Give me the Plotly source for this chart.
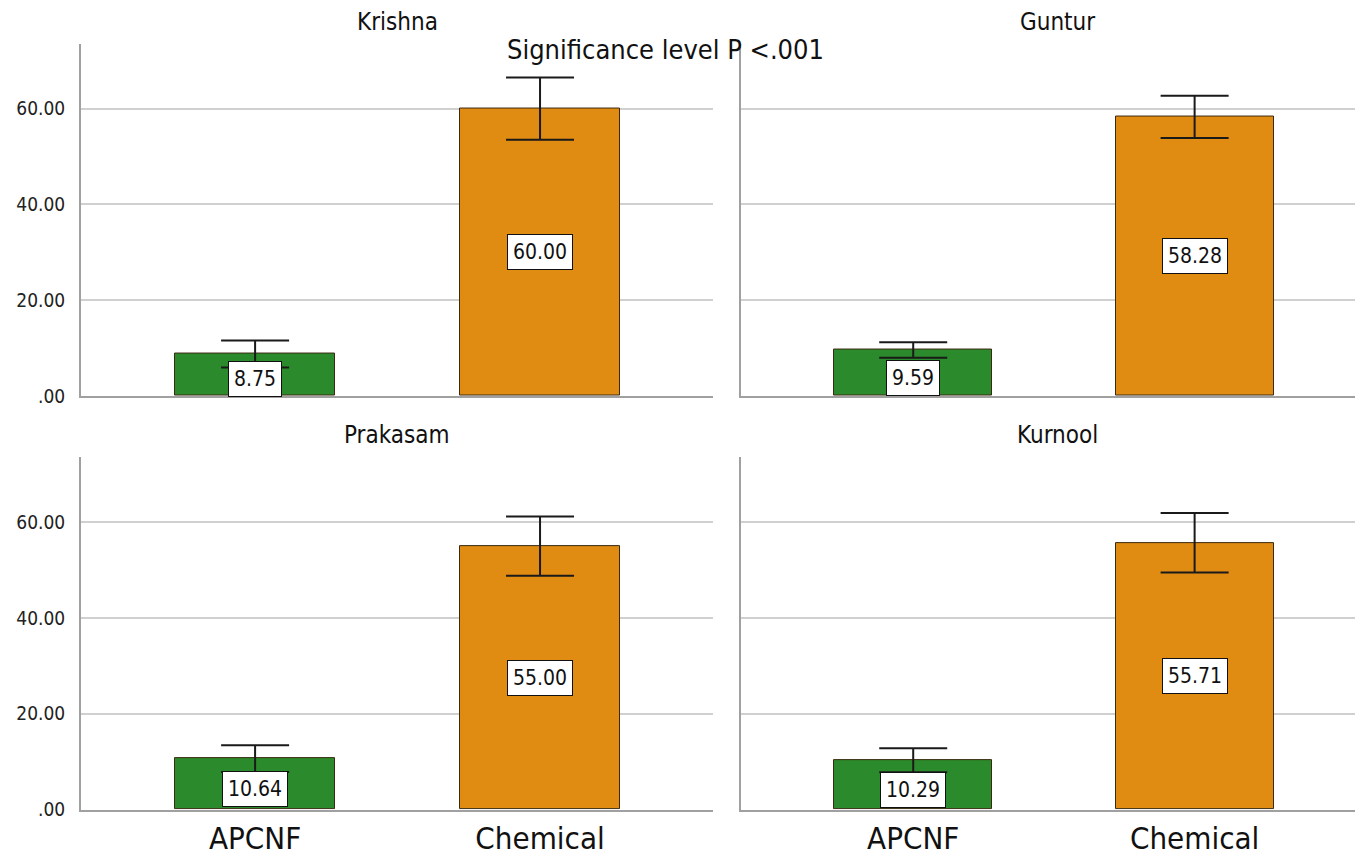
import plotly.graph_objects as go

districts = ["Krishna", "Guntur", "Prakasam", "Kurnool"]
categories = ["APCNF", "Chemical"]
apcnf_means = [8.75, 9.59, 10.64, 10.29]
chemical_means = [60.00, 58.28, 55.00, 55.71]
apcnf_err = [2.8, 1.6, 2.8, 2.5]
chemical_err = [6.5, 4.4, 6.2, 6.2]
y_tickvals = [0, 20, 40, 60]
y_ticktext = [".00", "20.00", "40.00", "60.00"]
title_text = "Significance level P <.001"

OFF = 8  # default page body margin on each side
W, H = 1363 - 2 * OFF, 867 - 2 * OFF
FONT = "Liberation Sans Narrow, DejaVu Sans Condensed, Arial Narrow, sans-serif"
GREEN = "#2b8a2b"
ORANGE = "#e08b12"


def px(v):
    return v - OFF


xdoms = [[px(81) / W, px(713) / W], [px(741) / W, 1.0]]
xranges = [[-0.611, 1.607], [-0.612, 1.570]]
ydoms = [[1 - px(401) / H, 1 - px(44) / H], [1 - px(820) / H, 1 - px(463) / H]]

fig = go.Figure()
annotations = []
for i, d in enumerate(districts):
    row, col = divmod(i, 2)
    ax = "" if i == 0 else str(i + 1)
    xa, ya = "x" + ax, "y" + ax
    vals = [apcnf_means[i], chemical_means[i]]
    errs = [apcnf_err[i], chemical_err[i]]
    fig.add_trace(go.Bar(
        x=categories, y=vals, xaxis=xa, yaxis=ya, width=0.561,
        marker=dict(color=[GREEN, ORANGE], line=dict(color="#3a2a10", width=1)),
        error_y=dict(type="data", array=errs, visible=True, color="#1a1a1a",
                     thickness=2, width=34),
        showlegend=False, hoverinfo="x+y",
    ))
    for c, v in zip(categories, vals):
        annotations.append(dict(
            x=c, y=v / 2 if v > 20 else v * 0.40, xref=xa, yref=ya, text=f"{v:.2f}",
            showarrow=False, bgcolor="white", bordercolor="#111", borderwidth=1,
            borderpad=5, font=dict(family=FONT, size=21, color="#111"),
        ))
    annotations.append(dict(
        x=(xdoms[0][0] + xdoms[0][1]) / 2 if col == 0 else px(1057) / W,
        y=1 - px(22) / H if row == 0 else 1 - px(441) / H,
        xref="paper", yref="paper", text=d, showarrow=False,
        font=dict(family=FONT, size=24, color="#111"), xanchor="center", yanchor="middle",
    ))
    axis_num = "" if i == 0 else str(i + 1)
    fig.update_layout(**{
        "xaxis" + axis_num: dict(
            domain=xdoms[col], anchor=ya, type="category", range=xranges[col],
            showgrid=False, showline=True, linecolor="#a0a0a0", linewidth=2,
            showticklabels=(row == 1), ticks="",
            tickfont=dict(family=FONT, size=31, color="#111"),
        ),
        "yaxis" + axis_num: dict(
            domain=ydoms[row], anchor=xa, range=[0, 73.6],
            tickvals=y_tickvals, ticktext=y_ticktext,
            showticklabels=(col == 0), ticks="", ticklabelstandoff=10,
            showgrid=True, gridcolor="#d0d0d0", gridwidth=2,
            zeroline=False, showline=True, linecolor="#a0a0a0", linewidth=2,
            tickfont=dict(family=FONT, size=19, color="#222"),
        ),
    })

annotations.append(dict(
    x=px(665) / W, y=1 - px(50) / H, xref="paper", yref="paper", text=title_text,
    showarrow=False, font=dict(family=FONT, size=27, color="#111"),
    xanchor="center", yanchor="middle",
))

fig.update_layout(
    width=W, height=H, margin=dict(l=0, r=0, t=0, b=0),
    paper_bgcolor="white", plot_bgcolor="white",
    annotations=annotations, bargap=0,
)
fig.write_html("out.html")
